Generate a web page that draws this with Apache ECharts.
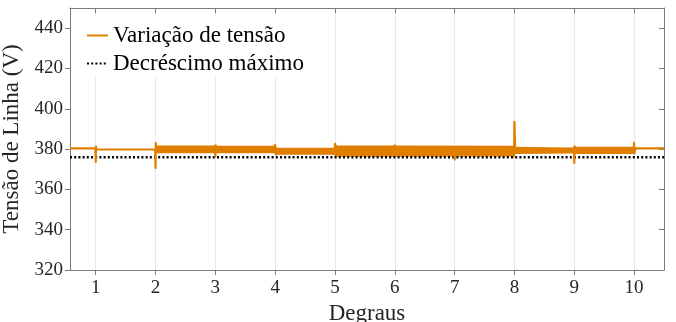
<!DOCTYPE html>
<html>
<head>
<meta charset="utf-8">
<script src="https://cdn.jsdelivr.net/npm/echarts@6/dist/echarts.min.js"></script>
<style>
    html, body { margin: 0; padding: 0; background: #fff; }
    #chart { width: 676px; height: 322px; }
</style>
</head>
<body>
<div id="chart"></div>
<script>
    // tensao de linha: trechos finos e picos em cada degrau
    var tensaoX = [0.57, 0.994, 1.0, 1.004, 1.012, 1.994, 2.0, 2.004, 2.012, 2.994, 3.0, 3.004, 3.012, 3.994, 4.0, 4.012,
        4.994, 5.0, 5.012, 5.994, 6.0, 6.012, 6.994, 7.0, 7.012, 7.995, 8.0, 8.006, 8.012, 8.994, 9.0, 9.004, 9.012,
        9.994, 10.0, 10.004, 10.02, 10.5];
    var tensaoY = [380.3, 380.3, 373.6, 381.2, 379.8, 379.8, 370.6, 383.0, 380.0, 380.0, 376.4, 381.9, 380.0, 380.0, 382.0, 379.0,
        379.0, 382.6, 379.3, 379.3, 381.8, 379.3, 379.3, 374.8, 379.3, 379.3, 393.5, 393.5, 379.3, 379.3, 373.1, 381.3, 379.3,
        379.3, 383.1, 377.8, 380.3, 380.3];

    // faixa de oscilacao (envelope) entre os degraus 2 e 10
    var faixaX   = [2.01, 2.99, 3.01, 3.99, 4.01, 4.99, 5.01, 6.0, 7.99, 8.01, 8.5, 8.99, 9.01, 9.99];
    var faixaMin = [378.3, 378.3, 378.3, 378.3, 377.5, 377.5, 376.6, 376.6, 376.7, 377.9, 378.1, 378.2, 377.9, 377.9];
    var faixaMax = [381.4, 381.4, 381.3, 381.3, 380.3, 380.3, 381.4, 381.4, 381.3, 380.8, 380.5, 380.4, 380.8, 380.8];

    // decrescimo maximo
    var limiteX = [0.57, 10.5];
    var limiteY = [376, 376];

    var degraus = [1, 2, 3, 4, 5, 6, 7, 8, 9, 10];
    var ticksY = [320, 340, 360, 380, 400, 420, 440];

    var laranja = '#e07e00';
    var corEixo = '#7a7a7a';
    var corTexto = '#262626';
    var fonte = 'Liberation Serif';

    var myChart = echarts.init(document.getElementById('chart'));

    function pares(xs, ys) {
        var out = [];
        for (var i = 0; i < xs.length; i++) out.push([xs[i], ys[i]]);
        return out;
    }

    var faixaData = [];
    for (var i = 0; i < faixaX.length; i++) faixaData.push([faixaX[i], faixaMin[i], faixaMax[i]]);

    var gridLines = degraus.map(function (d) { return { xAxis: d }; });

    var option = {
        animation: false,
        grid: { left: 70, top: 8, right: 12, bottom: 52, containLabel: false, outerBoundsMode: 'none' },
        legend: {
            data: ['Variação de tensão', 'Decréscimo máximo'],
            orient: 'vertical',
            left: 72,
            top: 16,
            padding: [8, 14, 2, 14],
            itemGap: 5,
            itemWidth: 21,
            itemHeight: 14,
            backgroundColor: '#fff',
            itemStyle: { opacity: 0 },
            textStyle: { fontFamily: fonte, fontSize: 23, color: '#000' }
        },
        xAxis: [
            {
                type: 'value',
                min: 0.57,
                max: 10.5,
                name: 'Degraus',
                nameLocation: 'middle',
                nameGap: 29,
                nameTextStyle: { fontFamily: fonte, fontSize: 23, color: corTexto },
                axisLine: { show: true, onZero: false, lineStyle: { color: corEixo, width: 1 } },
                axisTick: { show: true, inside: false, length: 5, customValues: degraus, lineStyle: { color: corEixo } },
                axisLabel: { customValues: degraus, margin: 9, fontFamily: fonte, fontSize: 19, color: corTexto },
                splitLine: { show: false }
            },
            {
                type: 'value',
                position: 'top',
                min: 0.57,
                max: 10.5,
                axisLine: { show: true, onZero: false, lineStyle: { color: corEixo, width: 1 } },
                axisTick: { show: true, inside: true, length: 5, customValues: degraus, lineStyle: { color: corEixo } },
                axisLabel: { show: false },
                splitLine: { show: false }
            }
        ],
        yAxis: [
            {
                type: 'value',
                min: 320,
                max: 450,
                name: 'Tensão de Linha (V)',
                nameLocation: 'middle',
                nameGap: 29,
                nameTextStyle: { fontFamily: fonte, fontSize: 23, color: corTexto },
                axisLine: { show: true, onZero: false, lineStyle: { color: corEixo, width: 1 } },
                axisTick: { show: true, inside: false, length: 5, customValues: ticksY, lineStyle: { color: corEixo } },
                axisLabel: { customValues: ticksY, margin: 7, fontFamily: fonte, fontSize: 19, color: corTexto },
                splitLine: { show: false }
            },
            {
                type: 'value',
                position: 'right',
                min: 320,
                max: 450,
                axisLine: { show: true, onZero: false, lineStyle: { color: corEixo, width: 1 } },
                axisTick: { show: true, inside: true, length: 5, customValues: ticksY, lineStyle: { color: corEixo } },
                axisLabel: { show: false },
                splitLine: { show: false }
            }
        ],
        series: [
            {
                name: 'grade',
                type: 'line',
                data: [],
                z: 0,
                silent: true,
                markLine: {
                    z: 0,
                    silent: true,
                    symbol: ['none', 'none'],
                    label: { show: false },
                    lineStyle: { color: '#e8e8e8', type: 'solid', width: 1 },
                    emphasis: { disabled: true },
                    data: gridLines
                }
            },
            {
                name: 'faixa',
                type: 'custom',
                data: faixaData,
                encode: { x: 0, y: [1, 2] },
                silent: true,
                z: 2,
                renderItem: function (params, api) {
                    var i = params.dataIndex;
                    if (i >= faixaX.length - 1) return;
                    var p1 = api.coord([faixaX[i], faixaMax[i]]);
                    var p2 = api.coord([faixaX[i + 1], faixaMax[i + 1]]);
                    var p3 = api.coord([faixaX[i + 1], faixaMin[i + 1]]);
                    var p4 = api.coord([faixaX[i], faixaMin[i]]);
                    return {
                        type: 'polygon',
                        shape: { points: [p1, p2, p3, p4] },
                        style: { fill: laranja, stroke: laranja, lineWidth: 1.5 }
                    };
                }
            },
            {
                name: 'Decréscimo máximo',
                type: 'line',
                data: pares(limiteX, limiteY),
                symbol: 'none',
                z: 3,
                silent: true,
                itemStyle: { color: '#000' },
                lineStyle: { color: '#000', width: 2.5, type: [2, 2.2] }
            },
            {
                name: 'Variação de tensão',
                type: 'line',
                data: pares(tensaoX, tensaoY),
                symbol: 'none',
                z: 4,
                silent: true,
                itemStyle: { color: laranja },
                lineStyle: { color: laranja, width: 2.2, join: 'round' }
            }
        ]
    };

    myChart.setOption(option);
</script>
</body>
</html>
